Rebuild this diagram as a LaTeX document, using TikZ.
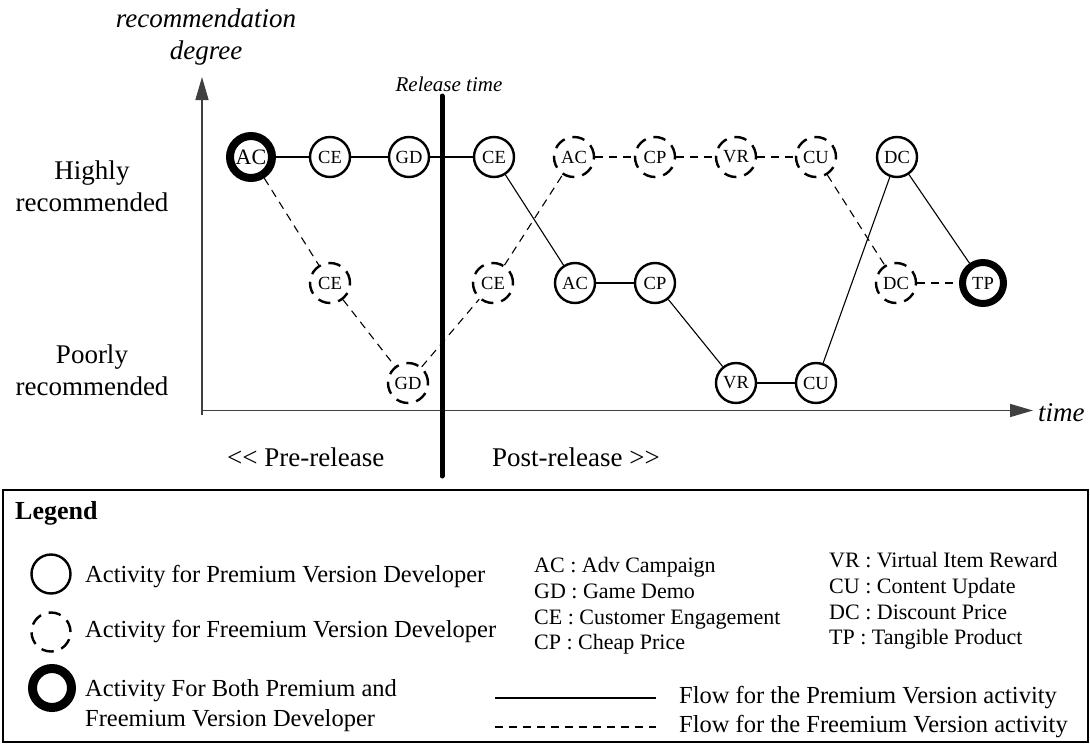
\documentclass[tikz,border=0pt]{standalone}
\usepackage{fontspec}
\setmainfont{Liberation Serif}
\usetikzlibrary{arrows.meta}
\begin{document}
\begin{tikzpicture}[x=1pt,y=-1pt,
  pnode/.style={circle, draw, line width=2.4pt, minimum size=40pt, inner sep=0pt, fill=white, font=\fontsize{18.5}{18.5}\selectfont},
  fnode/.style={pnode, dash pattern=on 12.5pt off 8pt},
  bnode/.style={pnode, line width=7pt, minimum size=41pt},
  pflow/.style={line width=1.1pt},
  fflow/.style={line width=1.1pt, dash pattern=on 8pt off 6pt},
  axis/.style={line width=1.5pt, draw=black!75, -{Triangle[length=23pt,width=13pt]}},
  big/.style={font=\fontsize{27}{32}\selectfont, align=center, inner sep=0pt},
  bigit/.style={font=\fontsize{27}{33}\selectfont\itshape, align=center, inner sep=0pt},
  leg/.style={font=\fontsize{24.5}{30}\selectfont, align=left, anchor=west, inner sep=0pt},
  abbr/.style={font=\fontsize{22}{25.7}\selectfont, align=left, anchor=west, inner sep=0pt}
]
\useasboundingbox (0,0) rectangle (1090,744);

% axes
\coordinate (o) at (202,415);
\coordinate (ytip) at (202,77);
\coordinate (xo) at (202,410.5);
\coordinate (xtip) at (1033,410.5);
\draw[axis] (o) -- (ytip);
\draw[axis] (xo) -- (xtip);

% axis labels
\node[bigit] (ylab) at (206,37) {recommendation\\[-1pt]degree};
\node[font=\fontsize{27}{27}\selectfont\itshape, anchor=west, inner sep=0pt] (xlab) at (1038,413) {time};
\node[font=\fontsize{21}{21}\selectfont\itshape, inner sep=0pt] (rel) at (449,84) {Release time};
\node[big] (high) at (92,186) {Highly\\recommended};
\node[big] (poor) at (92,370) {Poorly\\recommended};
\node[font=\fontsize{27}{27}\selectfont, anchor=west, inner sep=0pt] (pre) at (227,457) {<{}< Pre-release};
\node[font=\fontsize{27}{27}\selectfont, anchor=west, inner sep=0pt] (post) at (492,457) {Post-release >{}>};

% nodes top row
\node[pnode, line width=8pt, minimum size=42pt, font=\fontsize{22}{22}\selectfont] (ACt) at (251,157) {AC};
\node[pnode] (CEt1) at (330,157) {CE};
\node[pnode] (GDt) at (409,157) {GD};
\node[pnode] (CEt2) at (494,157) {CE};
\node[fnode] (ACd) at (574,157) {AC};
\node[fnode] (CPd) at (655,157) {CP};
\node[fnode] (VRd) at (736,157) {VR};
\node[fnode] (CUd) at (816,157) {CU};
\node[pnode] (DCt) at (897,157) {DC};
% middle row
\node[fnode] (CEm1) at (330,283) {CE};
\node[fnode] (CEm2) at (493,283) {CE};
\node[pnode] (ACm) at (575,283) {AC};
\node[pnode] (CPm) at (655,283) {CP};
\node[fnode] (DCm) at (896,283) {DC};
\node[bnode] (TP) at (983,283) {TP};
% bottom row
\node[fnode] (GDb) at (408,383) {GD};
\node[pnode] (VRb) at (736,383) {VR};
\node[pnode] (CUb) at (816,383) {CU};

% premium flow
\draw[pflow] (ACt) -- (CEt1);
\draw[pflow] (CEt1) -- (GDt);
\draw[pflow] (GDt) -- (CEt2);
\draw[pflow] (CEt2) -- (ACm);
\draw[pflow] (ACm) -- (CPm);
\draw[pflow] (CPm) -- (VRb);
\draw[pflow] (VRb) -- (CUb);
\draw[pflow] (CUb) -- (DCt);
\draw[pflow] (DCt) -- (TP);
% freemium flow
\draw[fflow] (ACt) -- (CEm1);
\draw[fflow] (CEm1) -- (GDb);
\draw[fflow] (GDb) -- (CEm2);
\draw[fflow] (CEm2) -- (ACd);
\draw[fflow] (ACd) -- (CPd);
\draw[fflow] (CPd) -- (VRd);
\draw[fflow] (VRd) -- (CUd);
\draw[fflow] (CUd) -- (DCm);
\draw[fflow] (DCm) -- (TP);

% release line
\coordinate (rtop) at (442,96);
\coordinate (rbot) at (442,476);
\draw[line width=5pt, line cap=round] (rtop) -- (rbot);

% legend
\draw[line width=2pt] (3,490) rectangle (1088,742);
\node[font=\fontsize{26}{26}\selectfont\bfseries, anchor=west, inner sep=0pt] (legt) at (15,513) {Legend};
\node[pnode, minimum size=39pt] (l1) at (51,574) {};
\node[fnode, minimum size=39pt] (l2) at (51,632) {};
\node[pnode, line width=9pt, minimum size=39pt] (l3) at (52,688) {};
\node[leg] (t1) at (85,577) {Activity for Premium Version Developer};
\node[leg] (t2) at (85,632) {Activity for Freemium Version Developer};
\node[leg] (t3) at (85,706) {Activity For Both Premium and\\Freemium Version Developer};

\node[abbr] (ab1) at (534,606) {AC : Adv Campaign\\GD : Game Demo\\CE : Customer Engagement\\CP : Cheap Price};
\node[abbr] (ab2) at (829,601) {VR : Virtual Item Reward\\CU : Content Update\\DC : Discount Price\\TP : Tangible Product};

\coordinate (s1) at (495,698);
\coordinate (s2) at (656,698);
\coordinate (d1) at (495,727);
\coordinate (d2) at (656,727);
\draw[pflow] (s1) -- (s2);
\draw[fflow] (d1) -- (d2);
\node[leg] (f1) at (679,698) {Flow for the Premium Version activity};
\node[leg] (f2) at (679,727) {Flow for the Freemium Version activity};
\end{tikzpicture}
\end{document}
